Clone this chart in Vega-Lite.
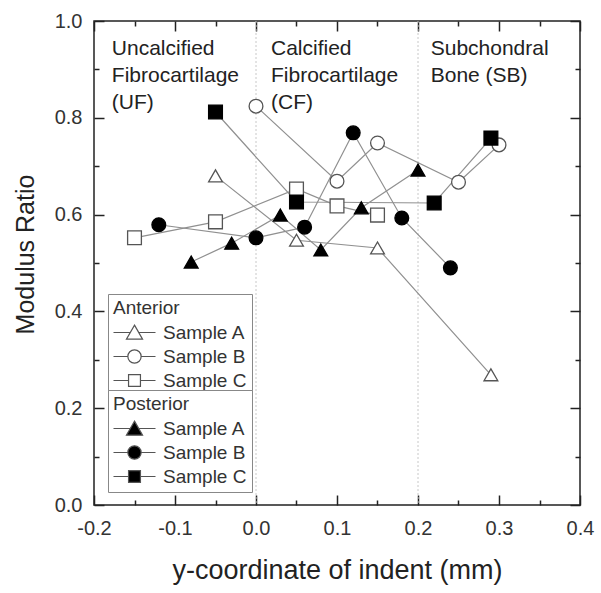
{
  "$schema": "https://vega.github.io/schema/vega-lite/v6.json",
  "width": 486,
  "height": 484,
  "autosize": {"type": "none"},
  "padding": {"left": 94, "top": 21, "right": 21, "bottom": 88},
  "config": {
    "font": "Liberation Sans",
    "view": {"stroke": "#222222", "strokeWidth": 1.5},
    "axis": {"grid": false, "domain": false, "tickColor": "#222222", "tickWidth": 1.5}
  },
  "datasets": {
    "pts": [
      {"group": "Anterior", "series": "Anterior Sample A", "x": -0.05, "y": 0.68},
      {"group": "Anterior", "series": "Anterior Sample A", "x": 0.05, "y": 0.547},
      {"group": "Anterior", "series": "Anterior Sample A", "x": 0.15, "y": 0.531},
      {"group": "Anterior", "series": "Anterior Sample A", "x": 0.29, "y": 0.269},
      {"group": "Anterior", "series": "Anterior Sample B", "x": 0.0, "y": 0.824},
      {"group": "Anterior", "series": "Anterior Sample B", "x": 0.10, "y": 0.669},
      {"group": "Anterior", "series": "Anterior Sample B", "x": 0.15, "y": 0.748},
      {"group": "Anterior", "series": "Anterior Sample B", "x": 0.25, "y": 0.667},
      {"group": "Anterior", "series": "Anterior Sample B", "x": 0.30, "y": 0.744},
      {"group": "Anterior", "series": "Anterior Sample C", "x": -0.15, "y": 0.552},
      {"group": "Anterior", "series": "Anterior Sample C", "x": -0.05, "y": 0.585},
      {"group": "Anterior", "series": "Anterior Sample C", "x": 0.05, "y": 0.653},
      {"group": "Anterior", "series": "Anterior Sample C", "x": 0.10, "y": 0.618},
      {"group": "Anterior", "series": "Anterior Sample C", "x": 0.15, "y": 0.599},
      {"group": "Posterior", "series": "Posterior Sample A", "x": -0.08, "y": 0.502},
      {"group": "Posterior", "series": "Posterior Sample A", "x": -0.03, "y": 0.541},
      {"group": "Posterior", "series": "Posterior Sample A", "x": 0.03, "y": 0.599},
      {"group": "Posterior", "series": "Posterior Sample A", "x": 0.08, "y": 0.527},
      {"group": "Posterior", "series": "Posterior Sample A", "x": 0.13, "y": 0.614},
      {"group": "Posterior", "series": "Posterior Sample A", "x": 0.20, "y": 0.692},
      {"group": "Posterior", "series": "Posterior Sample B", "x": -0.12, "y": 0.579},
      {"group": "Posterior", "series": "Posterior Sample B", "x": 0.0, "y": 0.552},
      {"group": "Posterior", "series": "Posterior Sample B", "x": 0.06, "y": 0.574},
      {"group": "Posterior", "series": "Posterior Sample B", "x": 0.12, "y": 0.769},
      {"group": "Posterior", "series": "Posterior Sample B", "x": 0.18, "y": 0.593},
      {"group": "Posterior", "series": "Posterior Sample B", "x": 0.24, "y": 0.490},
      {"group": "Posterior", "series": "Posterior Sample C", "x": -0.05, "y": 0.812},
      {"group": "Posterior", "series": "Posterior Sample C", "x": 0.05, "y": 0.626},
      {"group": "Posterior", "series": "Posterior Sample C", "x": 0.22, "y": 0.624},
      {"group": "Posterior", "series": "Posterior Sample C", "x": 0.29, "y": 0.758}
    ],
    "rules": [{"x": 0.0}, {"x": 0.2}],
    "regions": [
      {"x": -0.178, "y": 0.93, "label": "Uncalcified\nFibrocartilage\n(UF)"},
      {"x": 0.0185, "y": 0.93, "label": "Calcified\nFibrocartilage\n(CF)"},
      {"x": 0.2157, "y": 0.93, "label": "Subchondral\nBone (SB)"}
    ]
  },
  "resolve": {
    "axis": {"x": "independent", "y": "independent"},
    "scale": {"shape": "independent"},
    "legend": {"shape": "independent"}
  },
  "layer": [
    {
      "data": {"name": "rules"},
      "mark": {"type": "rule", "color": "#c8c8c8", "strokeDash": [2, 2], "strokeWidth": 1},
      "encoding": {
        "x": {
          "field": "x", "type": "quantitative",
          "scale": {"domain": [-0.2, 0.4], "nice": false, "zero": false},
          "axis": {"orient": "bottom", "values": [-0.15, -0.05, 0.05, 0.15, 0.25, 0.35], "offset": -5, "tickSize": 5, "labels": false, "title": null}
        }
      }
    },
    {
      "data": {"name": "regions"},
      "mark": {"type": "text", "align": "left", "baseline": "alphabetic", "fontSize": 21, "lineHeight": 27, "lineBreak": "\n", "color": "#222"},
      "encoding": {
        "x": {
          "field": "x", "type": "quantitative",
          "scale": {"domain": [-0.2, 0.4], "nice": false, "zero": false},
          "axis": {"orient": "top", "values": [-0.2, -0.1, 0, 0.1, 0.2, 0.3, 0.4], "offset": -10, "tickSize": 10, "labels": false, "title": null}
        },
        "y": {
          "field": "y", "type": "quantitative",
          "scale": {"domain": [0, 1], "nice": false, "zero": false},
          "axis": {"orient": "right", "values": [0, 0.2, 0.4, 0.6, 0.8, 1.0], "offset": -10, "tickSize": 10, "labels": false, "title": null}
        },
        "text": {"field": "label"}
      }
    },
    {
      "data": {"name": "pts"},
      "mark": {"type": "line", "color": "#909090", "strokeWidth": 1.2},
      "encoding": {
        "detail": {"field": "series"},
        "x": {
          "field": "x", "type": "quantitative",
          "scale": {"domain": [-0.2, 0.4], "nice": false, "zero": false},
          "axis": {
            "orient": "bottom",
            "values": [-0.2, -0.1, 0, 0.1, 0.2, 0.3, 0.4],
            "offset": -10, "tickSize": 10,
            "labelExpr": "(datum.value < -0.0001 ? '-' : '') + format(abs(datum.value), '.1f')",
            "labelFontSize": 20, "labelColor": "#333", "labelPadding": 13,
            "labelFlush": false, "labelOverlap": false, "labelBound": false,
            "title": "y-coordinate of indent (mm)",
            "titleFontSize": 27, "titleFontWeight": "normal", "titleColor": "#222",
            "titleBaseline": "alphabetic", "titleY": 83
          }
        },
        "y": {
          "field": "y", "type": "quantitative",
          "scale": {"domain": [0, 1], "nice": false, "zero": false},
          "axis": {
            "orient": "left",
            "values": [0, 0.2, 0.4, 0.6, 0.8, 1.0],
            "offset": -10, "tickSize": 10,
            "format": ".1f",
            "labelFontSize": 20, "labelColor": "#333", "labelPadding": 12,
            "labelFlush": false, "labelOverlap": false, "labelBound": false,
            "title": "Modulus Ratio",
            "titleFontSize": 25, "titleFontWeight": "normal", "titleColor": "#222",
            "titleBaseline": "alphabetic", "titleX": -71, "titleY": 233
          }
        }
      }
    },
    {
      "data": {"name": "pts"},
      "mark": {"type": "point", "size": 190, "strokeWidth": 1.3, "opacity": 1},
      "encoding": {
        "x": {
          "field": "x", "type": "quantitative",
          "scale": {"domain": [-0.2, 0.4], "nice": false, "zero": false},
          "axis": {"orient": "top", "values": [-0.15, -0.05, 0.05, 0.15, 0.25, 0.35], "offset": -5, "tickSize": 5, "labels": false, "title": null}
        },
        "y": {
          "field": "y", "type": "quantitative",
          "scale": {"domain": [0, 1], "nice": false, "zero": false},
          "axis": {"orient": "right", "values": [0.1, 0.3, 0.5, 0.7, 0.9], "offset": -5, "tickSize": 5, "labels": false, "title": null}
        },
        "fill": {"field": "group", "type": "nominal", "scale": {"domain": ["Anterior", "Posterior"], "range": ["white", "black"]}, "legend": null},
        "stroke": {"field": "group", "type": "nominal", "scale": {"domain": ["Anterior", "Posterior"], "range": ["#555555", "black"]}, "legend": null},
        "shape": {
          "field": "series", "type": "nominal",
          "scale": {
            "domain": ["Anterior Sample A", "Anterior Sample B", "Anterior Sample C", "Posterior Sample A", "Posterior Sample B", "Posterior Sample C"],
            "range": ["triangle-up", "circle", "square", "triangle-up", "circle", "square"]
          },
          "legend": null
        }
      }
    },
    {
      "data": {"name": "pts"},
      "transform": [{"filter": "datum.x > 5"}],
      "mark": {"type": "point", "filled": true, "fill": "white", "stroke": "#555555", "strokeWidth": 1.2, "opacity": 1},
      "encoding": {
        "x": {"field": "x", "type": "quantitative", "scale": {"domain": [-0.2, 0.4], "nice": false, "zero": false}, "axis": null},
        "y": {
          "field": "y", "type": "quantitative",
          "scale": {"domain": [0, 1], "nice": false, "zero": false},
          "axis": {"orient": "left", "values": [0.1, 0.3, 0.5, 0.7, 0.9], "offset": -5, "tickSize": 5, "labels": false, "title": null}
        },
        "shape": {
          "field": "series", "type": "nominal",
          "scale": {
            "domain": ["Anterior Sample A", "Anterior Sample B", "Anterior Sample C"],
            "range": [
              "M-3,0H-0.6M0.6,0H3M0,-1.05L1.15,0.95H-1.15Z",
              "M-3,0H-0.95M0.95,0H3M0.95,0A0.95,0.95 0 1,1 -0.95,0A0.95,0.95 0 1,1 0.95,0Z",
              "M-3,0H-0.85M0.85,0H3M-0.85,-0.85H0.85V0.85H-0.85Z"
            ]
          },
          "legend": {
            "title": "Anterior",
            "orient": "none", "legendX": 14, "legendY": 273, "padding": 5,
            "strokeColor": "#888", "fillColor": "white",
            "titleFontSize": 19, "titleFontWeight": "normal", "titleColor": "#333", "titlePadding": 5,
            "labelFontSize": 19, "labelColor": "#333",
            "symbolSize": 196, "symbolOffset": 12, "labelOffset": 19, "rowPadding": 4,
            "symbolStrokeWidth": 1.2,
            "labelExpr": "substring(datum.label, indexof(datum.label, 'Sample'))"
          }
        }
      }
    },
    {
      "data": {"name": "pts"},
      "transform": [{"filter": "datum.x > 5"}],
      "mark": {"type": "point", "filled": true, "fill": "black", "stroke": "#555555", "strokeWidth": 1.2, "opacity": 1},
      "encoding": {
        "x": {"field": "x", "type": "quantitative", "scale": {"domain": [-0.2, 0.4], "nice": false, "zero": false}, "axis": null},
        "y": {"field": "y", "type": "quantitative", "scale": {"domain": [0, 1], "nice": false, "zero": false}, "axis": null},
        "shape": {
          "field": "series", "type": "nominal",
          "scale": {
            "domain": ["Posterior Sample A", "Posterior Sample B", "Posterior Sample C"],
            "range": [
              "M-3,0H-0.6M0.6,0H3M0,-1.05L1.15,0.95H-1.15Z",
              "M-3,0H-0.95M0.95,0H3M0.95,0A0.95,0.95 0 1,1 -0.95,0A0.95,0.95 0 1,1 0.95,0Z",
              "M-3,0H-0.85M0.85,0H3M-0.85,-0.85H0.85V0.85H-0.85Z"
            ]
          },
          "legend": {
            "title": "Posterior",
            "orient": "none", "legendX": 14, "legendY": 369, "padding": 5,
            "strokeColor": "#888", "fillColor": "white",
            "titleFontSize": 19, "titleFontWeight": "normal", "titleColor": "#333", "titlePadding": 5,
            "labelFontSize": 19, "labelColor": "#333",
            "symbolSize": 196, "symbolOffset": 12, "labelOffset": 19, "rowPadding": 4,
            "symbolStrokeWidth": 1.2,
            "labelExpr": "substring(datum.label, indexof(datum.label, 'Sample'))"
          }
        }
      }
    }
  ]
}
